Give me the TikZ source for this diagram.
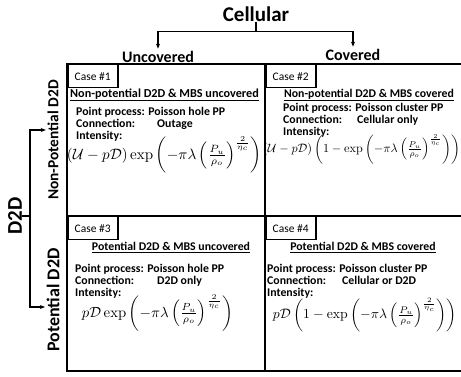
\documentclass[tikz,border=0pt]{standalone}
\usepackage[no-math]{fontspec}
\usepackage{amsmath}
\setmainfont{Carlito}
\usetikzlibrary{arrows.meta}

\newcommand{\expterm}{\exp\left(-\pi\lambda\left(\frac{P_u}{\rho_o}\right)^{\frac{2}{\eta_c}}\right)}

\begin{document}
\begin{tikzpicture}[x=1pt,y=-1pt,
  big/.style={font=\fontsize{21}{24}\selectfont\bfseries,inner sep=0pt},
  colhead/.style={font=\fontsize{16}{18}\selectfont\bfseries,inner sep=2.5pt},
  rowhead/.style={font=\fontsize{15.4}{18}\selectfont\bfseries,inner sep=1.5pt,rotate=90},
  bracket/.style={line width=1.2pt},
  grid/.style={line width=2.5pt},
  casebox/.style={draw,line width=1.5pt,anchor=north west,minimum width=50pt,
    minimum height=23pt,inner sep=0pt,font=\fontsize{11.5}{12}\selectfont},
  title/.style={font=\fontsize{11.8}{12}\selectfont\bfseries,inner sep=0pt},
  body/.style={font=\fontsize{11.8}{12}\selectfont\bfseries,anchor=west,
    inner sep=0pt,text height=8pt,text depth=2.5pt},
  formula/.style={inner sep=0pt}]
  \useasboundingbox (0,0) rectangle (461,377);

  % headers and brackets
  \node[big] (cellular) at (256,14) {Cellular};
  \node[colhead] (uncov) at (158,57) {Uncovered};
  \node[colhead] (cov) at (353,55) {Covered};
  \draw[bracket] (cellular.south) -- ++(0,10) coordinate (cfork);
  \draw[bracket,-{Stealth[length=5pt,width=4pt]}] (cfork) -| (uncov.north);
  \draw[bracket,-{Stealth[length=5pt,width=4pt]}] (cfork) -| (cov.north);

  \node[big,rotate=90] (d2d) at (15,216) {D2D};
  \node[rowhead] (nonpot) at (53,140) {Non-Potential D2D};
  \node[rowhead,font=\fontsize{18}{20}\selectfont\bfseries] (pot) at (53,300) {Potential D2D};
  \draw[bracket] (d2d.south) -- ++(8,0) coordinate (dfork);
  \draw[bracket,-{Stealth[length=5pt,width=4pt]}] (dfork) |- ([yshift=10pt]nonpot.north);
  \draw[bracket,-{Stealth[length=5pt,width=4pt]}] (dfork) |- ([yshift=-7pt]pot.north);

  % grid
  \draw[grid] (461,64) -- (67,64) -- (67,371) -- (461,371);
  \draw[grid] (265,64) -- (265,371);
  \draw[grid] (67,216) -- (461,216);

  % case 1
  \node[casebox] (case1) at (67,64) {Case \#1};
  \node[title,font=\fontsize{12.2}{12}\selectfont\bfseries] (title1) at (164.5,95) {\underline{Non-potential D2D \& MBS uncovered}};
  \node[body] (pp1) at (76,113) {Point process: Poisson hole PP};
  \node[body] (con1) at (76,125) {\makebox[81pt][l]{Connection:}Outage};
  \node[body] (int1) at (76,137) {Intensity:};
  \node[formula] (eq1) at (164.5,155) {\resizebox{195pt}{!}{$(\mathcal{U}-p\mathcal{D})\expterm$}};

  % case 2
  \node[casebox] (case2) at (265,64) {Case \#2};
  \node[title] (title2) at (369,95) {\underline{Non-potential D2D \& MBS covered}};
  \node[body] (pp2) at (283,109) {Point process: Poisson cluster PP};
  \node[body] (con2) at (283,121) {\makebox[74pt][l]{Connection:}Cellular only};
  \node[body] (int2) at (283,133) {Intensity:};
  \node[formula] (eq2) at (361.5,149) {\resizebox{197pt}{!}{$(\mathcal{U}-p\mathcal{D})\left(1-\expterm\right)$}};

  % case 3
  \node[casebox] (case3) at (67,216) {Case \#3};
  \node[title] (title3) at (171,248) {\underline{Potential D2D \& MBS uncovered}};
  \node[body] (pp3) at (75,270) {Point process: Poisson hole PP};
  \node[body] (con3) at (75,282) {\makebox[82pt][l]{Connection:}D2D only};
  \node[body] (int3) at (75,294) {Intensity:};
  \node[formula] (eq3) at (157.5,313) {\resizebox{151pt}{!}{$p\mathcal{D}\expterm$}};

  % case 4
  \node[casebox] (case4) at (265,216) {Case \#4};
  \node[title] (title4) at (363,248) {\underline{Potential D2D \& MBS covered}};
  \node[body] (pp4) at (267,270) {Point process: Poisson cluster PP};
  \node[body] (con4) at (267,282) {\makebox[75pt][l]{Connection:}Cellular or D2D};
  \node[body] (int4) at (267,294) {Intensity:};
  \node[formula] (eq4) at (365,315) {\resizebox{184pt}{!}{$p\mathcal{D}\left(1-\expterm\right)$}};
\end{tikzpicture}
\end{document}
